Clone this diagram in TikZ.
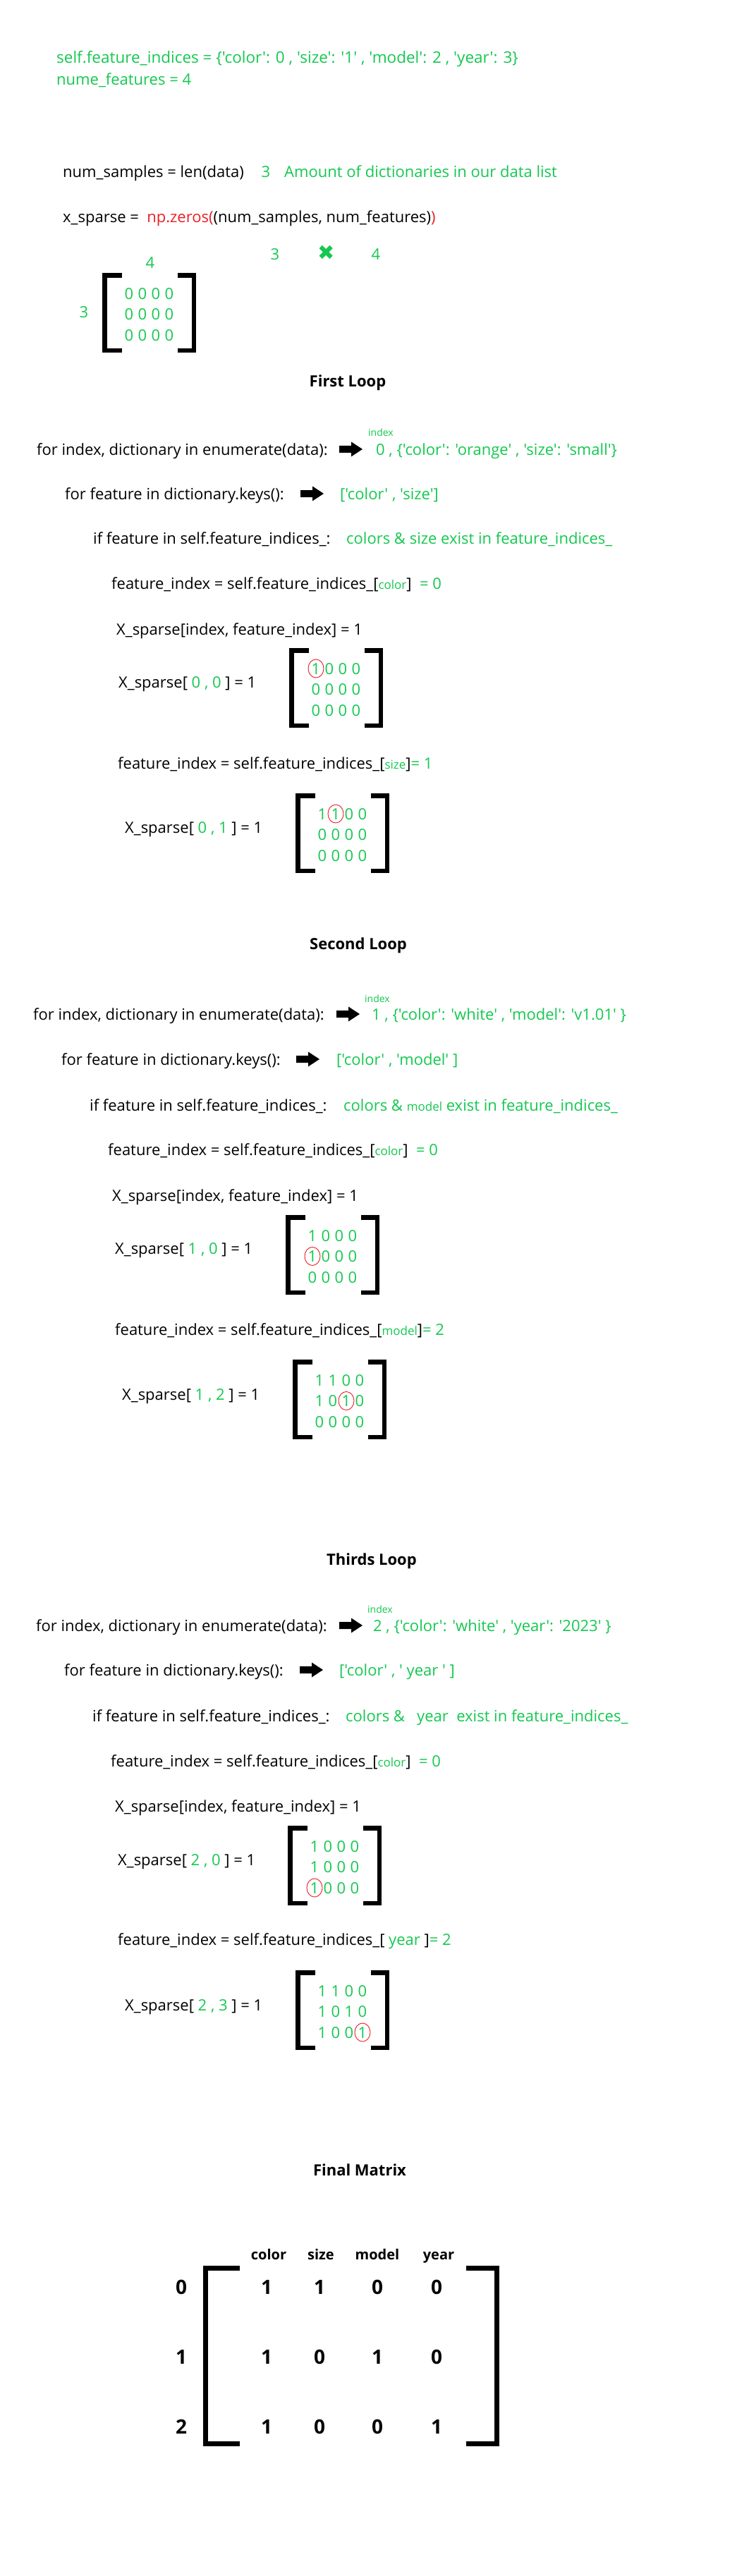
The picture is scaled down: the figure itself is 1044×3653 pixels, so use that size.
\documentclass[tikz,border=0pt]{standalone}
\usepackage{fontspec}
\setmainfont{Open Sans}[Ligatures=TeXOff]
\newfontfamily\symfont{DejaVu Sans}
\usetikzlibrary{shapes.geometric}
\definecolor{grn}{RGB}{20,200,80}
\definecolor{rd}{RGB}{235,30,40}
\newcommand\G[1]{\textcolor{grn}{#1}}
\newcommand\R[1]{\textcolor{rd}{#1}}
\newcommand\sm[1]{{\fontsize{17}{20}\selectfont\color{grn}#1}}
\newcommand\dg[1]{\makebox[19pt]{#1}}
\tikzset{
 txt/.style={font=\fontsize{22}{26}\selectfont, inner sep=0pt, anchor=west, text height=16pt, text depth=0pt},
 gtxt/.style={txt, text=grn},
 ttl/.style={font=\bfseries\fontsize{22}{26}\selectfont, inner sep=0pt, text height=16pt, text depth=0pt},
 idx/.style={font=\fontsize{14}{16}\selectfont, text=grn, inner sep=0pt, text height=10pt, text depth=0pt},
 mrow/.style={font=\fontsize{22}{26}\selectfont, text=grn, inner sep=0pt, text height=16pt, text depth=0pt},
 brk/.style={line width=6.5pt, line join=miter, line cap=butt},
 rc/.style={ellipse, draw=rd, line width=0.9pt, minimum width=22pt, minimum height=26pt, inner sep=0pt},
 fm/.style={font=\bfseries\fontsize{28}{32}\selectfont, inner sep=0pt, text height=20pt, text depth=0pt},
 fh/.style={font=\bfseries\fontsize{20}{24}\selectfont, inner sep=0pt, text height=15pt, text depth=0pt}
}
\newcommand\SMat[6]{%
 \draw[brk] ({#2+28},{#3+3.25}) -- ({#2+3.25},{#3+3.25}) -- ({#2+3.25},{#3+109.75}) -- ({#2+28},{#3+109.75});
 \draw[brk] ({#2+107},{#3+3.25}) -- ({#2+129.75},{#3+3.25}) -- ({#2+129.75},{#3+109.75}) -- ({#2+107},{#3+109.75});
 \node[mrow] (#1a) at ({#2+66.5},{#3+29}) {#4};
 \node[mrow] (#1b) at ({#2+66.5},{#3+58.5}) {#5};
 \node[mrow] (#1c) at ({#2+66.5},{#3+88}) {#6};
}
\newcommand\Circ[5]{\node[rc] (#1) at ({#2+66.5+(#5-2.5)*19},{#3+29+(#4-1)*29.5}) {};}
% block arrow centred at (#2,#3)
\newcommand\Arr[3]{%
 \coordinate (#1) at (#2,#3);
 \fill[black] ({#2-16},{#3-5}) -- ({#2+1},{#3-5}) -- ({#2+1},{#3-10.5}) -- ({#2+17},{#3}) -- ({#2+1},{#3+10.5}) -- ({#2+1},{#3+5}) -- ({#2-16},{#3+5}) -- cycle;
}
\begin{document}
\begin{tikzpicture}[x=1pt,y=-1pt]
\fill[white] (0,0) rectangle (1044,3653);
\useasboundingbox (0,0) rectangle (1044,3653);
% ---------- header ----------
\node[gtxt, font=\fontsize{22.5}{26}\selectfont] (t1) at (80,82) {self.feature\_indices = \{'color': 0 , 'size': '1' , 'model': 2 , 'year': 3\}};
\node[gtxt] (t2) at (80,113) {nume\_features = 4};
\node[txt] (t3) at (89,243) {num\_samples = len(data)};
\node[gtxt,anchor=center] (t3n) at (377,243) {3};
\node[gtxt] (t3c) at (403,243) {Amount of dictionaries in our data list};
\node[txt] (t4) at (89,307) {x\_sparse =\ \ \R{np.zeros(}(num\_samples, num\_features)\R{)}};
\node[gtxt,anchor=center] (d3) at (390,360) {3};
\node[font=\symfont\fontsize{29}{32}\selectfont, text=grn, inner sep=0pt] (dx) at (463,358) {✖};
\node[gtxt,anchor=center] (d4) at (533,360) {4};
\node[gtxt,anchor=center] (m0col) at (213,372) {4};
\SMat{m0}{145}{387}{\dg0\dg0\dg0\dg0}{\dg0\dg0\dg0\dg0}{\dg0\dg0\dg0\dg0}
\node[gtxt,anchor=center] (m0row) at (119,442) {3};
% ---------- First loop ----------
\node[ttl] (h1) at (493,540) {First Loop};
\node[idx] (i1) at (540,613) {index};
\node[txt] (f1) at (52,637) {for index, dictionary in enumerate(data):};
\Arr{a1}{497}{637}
\node[gtxt] (v1) at (533,637) {0 , \{'color': 'orange' , 'size': 'small'\}};
\node[txt] (k1) at (92,700) {for feature in dictionary.keys():};
\Arr{a2}{442}{700}
\node[gtxt] (w1) at (482,700) {['color' , 'size']};
\node[txt] (c1) at (132,763) {if feature in self.feature\_indices\_:};
\node[gtxt] (g1) at (491,763) {colors \& size exist in feature\_indices\_};
\node[txt] (e1) at (158,827) {feature\_index = self.feature\_indices\_[\sm{color}]\ \ \G{= 0}};
\node[txt] (s1) at (165,892) {X\_sparse[index, feature\_index] = 1};
\SMat{m1}{410}{919}{\dg1\dg0\dg0\dg0}{\dg0\dg0\dg0\dg0}{\dg0\dg0\dg0\dg0}
\Circ{m1o}{410}{919}{1}{1}
\node[txt] (x1) at (168,967) {X\_sparse[ \G{0 , 0} ] = 1};
\node[txt] (e2) at (167,1082) {feature\_index = self.feature\_indices\_[\sm{size}]\G{ = 1}};
\SMat{m2}{419}{1125}{\dg1\dg1\dg0\dg0}{\dg0\dg0\dg0\dg0}{\dg0\dg0\dg0\dg0}
\Circ{m2o}{419}{1125}{1}{2}
\node[txt] (x2) at (177,1173) {X\_sparse[ \G{0 , 1} ] = 1};
% ---------- Second loop ----------
\node[ttl] (h2) at (508,1338) {Second Loop};
\node[idx] (i2) at (535,1416) {index};
\node[txt] (f2) at (47,1438) {for index, dictionary in enumerate(data):};
\Arr{a3}{493}{1438}
\node[gtxt] (v2) at (527,1438) {1 , \{'color': 'white' , 'model': 'v1.01' \}};
\node[txt] (k2) at (87,1502) {for feature in dictionary.keys():};
\Arr{a4}{436}{1502}
\node[gtxt] (w2) at (477,1502) {['color' , 'model' ]};
\node[txt] (c2) at (127,1567) {if feature in self.feature\_indices\_:};
\node[gtxt] (g2) at (487,1567) {colors \& \sm{model} exist in feature\_indices\_};
\node[txt] (e3) at (153,1630) {feature\_index = self.feature\_indices\_[\sm{color}]\ \ \G{= 0}};
\node[txt] (s2) at (159,1695) {X\_sparse[index, feature\_index] = 1};
\SMat{m3}{405}{1723}{\dg1\dg0\dg0\dg0}{\dg1\dg0\dg0\dg0}{\dg0\dg0\dg0\dg0}
\Circ{m3o}{405}{1723}{2}{1}
\node[txt] (x3) at (163,1770) {X\_sparse[ \G{1 , 0} ] = 1};
\node[txt] (e4) at (163,1885) {feature\_index = self.feature\_indices\_[\sm{model}]\G{ = 2}};
\SMat{m4}{415}{1928}{\dg1\dg1\dg0\dg0}{\dg1\dg0\dg1\dg0}{\dg0\dg0\dg0\dg0}
\Circ{m4o}{415}{1928}{2}{3}
\node[txt] (x4) at (173,1977) {X\_sparse[ \G{1 , 2} ] = 1};
% ---------- Third loop ----------
\node[ttl] (h3) at (527,2211) {Thirds Loop};
\node[idx] (i3) at (539,2282) {index};
\node[txt] (f3) at (51,2305) {for index, dictionary in enumerate(data):};
\Arr{a5}{497}{2305}
\node[gtxt] (v3) at (529,2305) {2 , \{'color': 'white' , 'year': '2023' \}};
\node[txt] (k3) at (91,2368) {for feature in dictionary.keys():};
\Arr{a6}{441}{2368}
\node[gtxt] (w3) at (481,2368) {['color' , ' year ' ]};
\node[txt] (c3) at (131,2433) {if feature in self.feature\_indices\_:};
\node[gtxt] (g3) at (490,2433) {colors \&\ \ \ year\ \ exist in feature\_indices\_};
\node[txt] (e5) at (157,2497) {feature\_index = self.feature\_indices\_[\sm{color}]\ \ \G{= 0}};
\node[txt] (s3) at (163,2561) {X\_sparse[index, feature\_index] = 1};
\SMat{m5}{408}{2589}{\dg1\dg0\dg0\dg0}{\dg1\dg0\dg0\dg0}{\dg1\dg0\dg0\dg0}
\Circ{m5o}{408}{2589}{3}{1}
\node[txt] (x5) at (167,2637) {X\_sparse[ \G{2 , 0} ] = 1};
\node[txt] (e6) at (167,2750) {feature\_index = self.feature\_indices\_[ \G{year} ]\G{ = 2}};
\SMat{m6}{419}{2794}{\dg1\dg1\dg0\dg0}{\dg1\dg0\dg1\dg0}{\dg1\dg0\dg0\dg1}
\Circ{m6o}{419}{2794}{3}{4}
\node[txt] (x6) at (177,2843) {X\_sparse[ \G{2 , 3} ] = 1};
% ---------- Final matrix ----------
\node[ttl] (h4) at (510,3077) {Final Matrix};
\node[fh] (hc) at (381,3197) {color};
\node[fh] (hs) at (455,3197) {size};
\node[fh] (hm) at (535,3197) {model};
\node[fh] (hy) at (622,3197) {year};
\draw[brk, line width=7pt] (340,3216.5) -- (291.5,3216.5) -- (291.5,3465.5) -- (340,3465.5);
\draw[brk, line width=7pt] (661,3216.5) -- (704.5,3216.5) -- (704.5,3465.5) -- (661,3465.5);
\foreach \r/\y/\a/\b/\c/\d in {0/3243/1/1/0/0, 1/3342/1/0/1/0, 2/3441/1/0/0/1} {
  \node[fm] (rl\r) at (257,\y) {\r};
  \node[fm] (v\r a) at (378,\y) {\a};
  \node[fm] (v\r b) at (453,\y) {\b};
  \node[fm] (v\r c) at (535,\y) {\c};
  \node[fm] (v\r d) at (619,\y) {\d};
}
\end{tikzpicture}
\end{document}
